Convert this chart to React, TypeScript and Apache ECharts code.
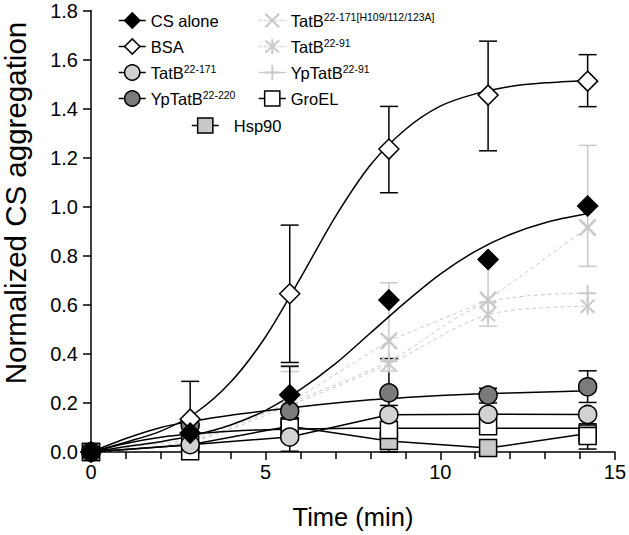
import React, { useEffect, useRef } from 'react';
import * as echarts from 'echarts';

// ---- data ----
const TIMES = [0, 2.84, 5.69, 8.53, 11.37, 14.22];
const CS_ALONE = [0, 0.077, 0.233, 0.62, 0.785, 1.003];
const BSA = [0, 0.134, 0.645, 1.235, 1.455, 1.512];
const TATB_171 = [0, 0.03, 0.061, 0.152, 0.154, 0.153];
const YPTATB_220 = [0, 0.11, 0.167, 0.241, 0.232, 0.266];
const TATB_MUT = [0, 0.05, 0.2, 0.453, 0.62, 0.915];
const TATB_91 = [0, 0.04, 0.19, 0.359, 0.56, 0.594];
const YPTATB_91 = [0, 0.045, 0.2, 0.37, 0.61, 0.647];
const GROEL = [0, 0.003, 0.1, 0.09, 0.105, 0.065];
const HSP90 = [0, 0.03, 0.105, 0.045, 0.016, 0.075];

// fitted curves
const FIT_T = [0, 1, 2, 3, 4, 5, 6, 7, 8, 9, 10, 11, 12, 13, 14.22];
const BSA_FIT = [0, 0.04, 0.085, 0.16, 0.285, 0.47, 0.71, 0.96, 1.17, 1.315, 1.41, 1.46, 1.49, 1.505, 1.515];
const CS_FIT = [0, 0.022, 0.042, 0.07, 0.11, 0.17, 0.255, 0.36, 0.485, 0.61, 0.725, 0.818, 0.887, 0.935, 0.972];
const YP220_FIT = [0, 0.055, 0.1, 0.128, 0.15, 0.168, 0.184, 0.2, 0.213, 0.222, 0.23, 0.236, 0.241, 0.245, 0.25];
const GROEL_FIT = [0, 0.035, 0.06, 0.075, 0.085, 0.091, 0.094, 0.096, 0.097, 0.097, 0.097, 0.097, 0.097, 0.097, 0.097];

// error bars: [time, low, high]
const ERR_BLACK = [
  [2.84, 0.134, 0.288],
  [5.69, 0.365, 0.925],
  [5.69, 0.12, 0.35],
  [5.69, 0.003, 0.12],
  [8.53, 1.057, 1.409],
  [8.53, 0.098, 0.381],
  [8.53, 0.12, 0.19],
  [8.53, 0.0, 0.08],
  [11.37, 1.228, 1.675],
  [11.37, 0.2, 0.26],
  [11.37, 0.09, 0.12],
  [14.22, 1.408, 1.62],
  [14.22, 0.202, 0.331],
  [14.22, 0.012, 0.115],
];
const ERR_GREY = [
  [5.69, 0.1, 0.345],
  [5.69, 0.1, 0.328],
  [8.53, 0.33, 0.69],
  [11.37, 0.513, 0.79],
  [14.22, 0.757, 1.25],
];

const X_TICKS = [0, 5, 10, 15];
const Y_MAX = 1.8;

const LEGEND_LABELS: Record<string, string> = {
  'CS alone': 'CS alone',
  BSA: 'BSA',
  'TatB22-171': 'TatB{sup|22-171}',
  'YpTatB22-220': 'YpTatB{sup|22-220}',
  'TatB22-171[H109/112/123A]': 'TatB{sup|22-171[H109/112/123A]}',
  'TatB22-91': 'TatB{sup|22-91}',
  'YpTatB22-91': 'YpTatB{sup|22-91}',
  GroEL: 'GroEL',
  Hsp90: 'Hsp90',
};

const FONT = "'Liberation Sans', Arial, Helvetica, sans-serif";
const GREY = '#c9c9c9';
const LIGHT = '#d2d2d2';
const DARK = '#7b7b7b';

const X_PATH = 'path://M0,10L10,0L50,40L90,0L100,10L60,50L100,90L90,100L50,60L10,100L0,90L40,50Z';
const PLUS_PATH = 'path://M44,0H56V44H100V56H56V100H44V56H0V44H44Z';
const STAR_PATH =
  'path://M44,0H56V100H44Z M6,16L14,6L50,42L86,6L94,16L58,50L94,84L86,94L50,58L14,94L6,84L42,50Z';

const pairs = (xs: number[], ys: number[]) => xs.map((x, i) => [x, ys[i]]);

function pointSeries(name: string, ys: number[], symbol: string, size: number, fill: string, border: number) {
  return {
    type: 'line',
    name,
    data: pairs(TIMES, ys),
    symbol,
    symbolSize: size,
    symbolKeepAspect: true,
    showSymbol: true,
    lineStyle: { width: 0, opacity: 0 },
    itemStyle: { color: fill, borderColor: '#000', borderWidth: border, opacity: 1 },
    z: 5,
    silent: true,
  };
}

function lineSeries(name: string, xs: number[], ys: number[], color: string, width: number, type: any, smooth: number | false) {
  return {
    type: 'line',
    name,
    data: pairs(xs, ys),
    symbol: 'none',
    smooth,
    lineStyle: { color, width, type },
    z: 3,
    silent: true,
  };
}

function errSeries(name: string, data: number[][], color: string, z: number) {
  return {
    type: 'custom',
    name,
    data,
    encode: { x: 0, y: [1, 2] },
    z,
    silent: true,
    renderItem: (params: any, api: any) => {
      const x = api.value(0);
      const p1 = api.coord([x, api.value(1)]);
      const p2 = api.coord([x, api.value(2)]);
      const hw = 9;
      const style = { stroke: color, lineWidth: 1.5, fill: 'none' };
      return {
        type: 'group',
        children: [
          { type: 'line', shape: { x1: p1[0], y1: p1[1], x2: p2[0], y2: p2[1] }, style },
          { type: 'line', shape: { x1: p1[0] - hw, y1: p1[1], x2: p1[0] + hw, y2: p1[1] }, style },
          { type: 'line', shape: { x1: p2[0] - hw, y1: p2[1], x2: p2[0] + hw, y2: p2[1] }, style },
        ],
      };
    },
  };
}

const blackLine = { color: '#000', width: 1.5, type: 'solid', opacity: 1 };
const greyDotted = { color: GREY, width: 1.3, type: 'dotted', opacity: 1 };
const greySolid = { color: GREY, width: 1.3, type: 'solid', opacity: 1 };
const mk = (fill: string, bw: number) => ({ color: fill, borderColor: '#000', borderWidth: bw, opacity: 1 });

const legendText = {
  fontSize: 16.5,
  lineHeight: 19,
  color: '#000',
  fontFamily: FONT,
  rich: {
    sup: { fontSize: 10.5, lineHeight: 11, verticalAlign: 'top', fontFamily: FONT, color: '#000' },
  },
};

const legendBase = {
  orient: 'vertical',
  itemWidth: 27,
  itemHeight: 19,
  itemGap: 7,
  padding: 0,
  selectedMode: false,
  formatter: (n: string) => LEGEND_LABELS[n] || n,
  textStyle: legendText,
};

export default function App() {
  const ref = useRef<HTMLDivElement>(null);
  useEffect(() => {
    if (!ref.current) return;
    const chart = echarts.init(ref.current, undefined, { renderer: 'svg' });
    const option: any = {
      animation: false,
      backgroundColor: '#fff',
      grid: { left: 91, right: 12, top: 10.5, bottom: 77.5, containLabel: false },
      xAxis: {
        type: 'value',
        min: X_TICKS[0],
        max: X_TICKS[X_TICKS.length - 1],
        interval: 5,
        name: 'Time (min)',
        nameLocation: 'middle',
        nameGap: 52,
        nameTextStyle: { fontSize: 25.5, fontFamily: FONT, color: '#000' },
        axisLine: { show: true, onZero: false, lineStyle: { color: '#000', width: 1.5 } },
        axisTick: { show: true, length: 8, lineStyle: { color: '#000', width: 1.5 } },
        minorTick: { show: true, splitNumber: 5, length: 7, lineStyle: { color: '#000', width: 1.5 } },
        axisLabel: { fontSize: 20, fontFamily: FONT, color: '#000', margin: 10 },
        splitLine: { show: false },
      },
      yAxis: {
        type: 'value',
        min: 0,
        max: Y_MAX,
        interval: 0.2,
        axisLine: { show: true, onZero: false, lineStyle: { color: '#000', width: 1.5 } },
        axisTick: { show: true, length: 8, lineStyle: { color: '#000', width: 1.5 } },
        axisLabel: {
          fontSize: 20,
          fontFamily: FONT,
          color: '#000',
          margin: 13,
          formatter: (v: number) => v.toFixed(1),
        },
        splitLine: { show: false },
      },
      graphic: [
        {
          type: 'text',
          x: 15,
          y: 203,
          rotation: Math.PI / 2,
          style: {
            text: 'Normalized CS aggregation',
            fontSize: 29.5,
            fontFamily: FONT,
            fill: '#000',
            align: 'center',
            verticalAlign: 'middle',
          },
        },
      ],
      legend: [
        {
          ...legendBase,
          left: 118,
          top: 11,
          data: [
            { name: 'CS alone', itemStyle: mk('#000', 1.5), lineStyle: blackLine },
            { name: 'BSA', itemStyle: mk('#fff', 1.5), lineStyle: blackLine },
            { name: 'TatB22-171', itemStyle: mk(LIGHT, 1.5), lineStyle: blackLine },
            { name: 'YpTatB22-220', itemStyle: mk(DARK, 1.5), lineStyle: blackLine },
          ],
        },
        {
          ...legendBase,
          left: 258,
          top: 11,
          data: [
            { name: 'TatB22-171[H109/112/123A]', itemStyle: mk(GREY, 0), lineStyle: greyDotted },
            { name: 'TatB22-91', itemStyle: mk(GREY, 0), lineStyle: greyDotted },
            { name: 'YpTatB22-91', itemStyle: mk(GREY, 0), lineStyle: greySolid },
            { name: 'GroEL', itemStyle: mk('#fff', 1.5), lineStyle: blackLine },
          ],
        },
        {
          ...legendBase,
          left: 191,
          top: 116,
          textStyle: { ...legendText, padding: [0, 0, 0, 10] },
          data: [{ name: 'Hsp90', itemStyle: mk(GREY, 1.5), lineStyle: blackLine }],
        },
      ],
      series: [
        errSeries('err grey', ERR_GREY, GREY, 1),
        errSeries('err black', ERR_BLACK, '#000', 2),
        // connecting / fitted lines
        lineSeries('mut line', TIMES, TATB_MUT, GREY, 1, [4, 3], false),
        lineSeries('91 line', TIMES, TATB_91, GREY, 1, [4, 3], 0.3),
        lineSeries('yp91 line', TIMES, YPTATB_91, GREY, 1, [4, 3], 0.3),
        lineSeries('groel fit', FIT_T, GROEL_FIT, '#000', 1.5, 'solid', 0.3),
        lineSeries('hsp90 line', TIMES, HSP90, '#000', 1.5, 'solid', false),
        lineSeries('tatb171 line', TIMES, TATB_171, '#000', 1.5, 'solid', false),
        lineSeries('yp220 fit', FIT_T, YP220_FIT, '#000', 1.5, 'solid', 0.3),
        lineSeries('bsa fit', FIT_T, BSA_FIT, '#000', 1.5, 'solid', 0.3),
        lineSeries('cs fit', FIT_T, CS_FIT, '#000', 1.5, 'solid', 0.3),
        // markers
        pointSeries('TatB22-171[H109/112/123A]', TATB_MUT, X_PATH, 18, GREY, 0),
        pointSeries('TatB22-91', TATB_91, STAR_PATH, 17, GREY, 0),
        pointSeries('YpTatB22-91', YPTATB_91, PLUS_PATH, 17, GREY, 0),
        pointSeries('Hsp90', HSP90, 'rect', 17, GREY, 1.5),
        pointSeries('GroEL', GROEL, 'rect', 17, '#fff', 1.5),
        pointSeries('TatB22-171', TATB_171, 'circle', 18, LIGHT, 1.5),
        pointSeries('YpTatB22-220', YPTATB_220, 'circle', 18, DARK, 1.5),
        pointSeries('BSA', BSA, 'diamond', 20, '#fff', 1.5),
        pointSeries('CS alone', CS_ALONE, 'diamond', 20, '#000', 1.5),
      ],
    };
    chart.setOption(option);
    return () => chart.dispose();
  }, []);
  return (
    <div
      ref={ref}
      style={{ position: 'fixed', left: 0, top: 0, width: 629, height: 535, background: '#fff' }}
    />
  );
}
